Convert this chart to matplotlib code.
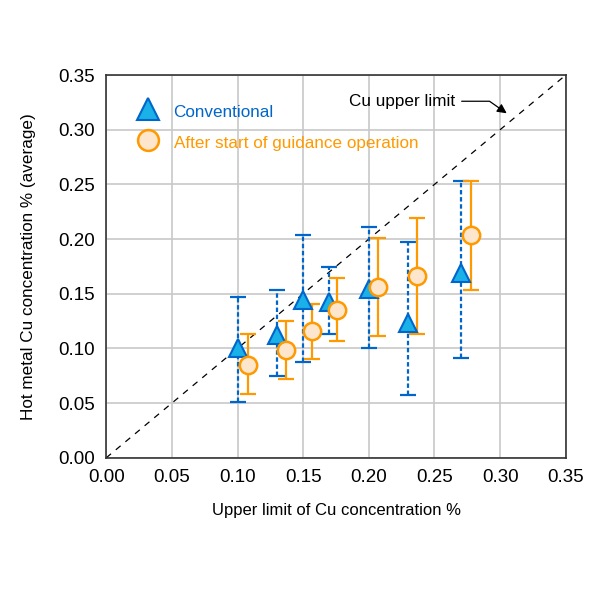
import matplotlib
matplotlib.use('Agg')
import matplotlib.pyplot as plt
from matplotlib.lines import Line2D

plt.rcParams['font.family'] = ['Liberation Sans', 'DejaVu Sans']

# Conventional
conv_x = [0.10, 0.13, 0.15, 0.17, 0.20, 0.23, 0.27]
conv_y = [0.100, 0.112, 0.144, 0.142, 0.154, 0.123, 0.169]
conv_hi = [0.147, 0.153, 0.204, 0.174, 0.211, 0.197, 0.253]
conv_lo = [0.051, 0.075, 0.088, 0.113, 0.100, 0.057, 0.091]

# After start of guidance operation
guid_x = [0.108, 0.137, 0.157, 0.176, 0.207, 0.237, 0.278]
guid_y = [0.085, 0.099, 0.116, 0.135, 0.156, 0.166, 0.204]
guid_hi = [0.113, 0.125, 0.141, 0.164, 0.201, 0.219, 0.253]
guid_lo = [0.058, 0.072, 0.090, 0.107, 0.111, 0.113, 0.153]

blue_edge = '#0066cc'
blue_fill = '#1ab0e8'
orange = '#ff9900'
orange_fill = '#fde6cc'

fig = plt.figure(figsize=(6, 6), dpi=100)
ax = fig.add_axes([0.177, 0.237, 0.766, 0.638])

ax.plot([0, 0.35], [0, 0.35], color='black', linestyle=(0, (5, 5)), linewidth=0.9, zorder=2)

err = [[y - l for y, l in zip(conv_y, conv_lo)], [h - y for y, h in zip(conv_y, conv_hi)]]
eb = ax.errorbar(conv_x, conv_y, yerr=err, fmt='none', ecolor=blue_edge, elinewidth=1.6,
                 capsize=6, capthick=1.6, zorder=3)
eb[2][0].set_linestyle((0, (2, 1.2)))
ax.plot(conv_x, conv_y, linestyle='none', marker='^', markersize=13.5, markerfacecolor=blue_fill,
        markeredgecolor=blue_edge, markeredgewidth=1.5, zorder=4)

err = [[y - l for y, l in zip(guid_y, guid_lo)], [h - y for y, h in zip(guid_y, guid_hi)]]
ax.errorbar(guid_x, guid_y, yerr=err, fmt='none', ecolor=orange, elinewidth=1.6,
            capsize=6, capthick=1.6, zorder=3)
ax.plot(guid_x, guid_y, linestyle='none', marker='o', markersize=12.5, markerfacecolor=orange_fill,
        markeredgecolor=orange, markeredgewidth=1.8, zorder=4)

ax.set_xlim(0, 0.35)
ax.set_ylim(0, 0.35)
ticks = [0.00, 0.05, 0.10, 0.15, 0.20, 0.25, 0.30, 0.35]
ax.set_xticks(ticks)
ax.set_yticks(ticks)
ax.set_xticklabels([f'{t:.2f}' for t in ticks])
ax.set_yticklabels([f'{t:.2f}' for t in ticks])
ax.tick_params(labelsize=13.5, length=0, pad=8)
ax.grid(color='#c8c8c8', linewidth=1.2)
ax.set_axisbelow(True)
for s in ax.spines.values():
    s.set_color('#333333')
    s.set_linewidth(1.2)

ax.set_xlabel('Upper limit of Cu concentration %', fontsize=12, labelpad=12)
ax.set_ylabel('Hot metal Cu concentration % (average)', fontsize=12.3, labelpad=16)

handles = [
    Line2D([], [], linestyle='none', marker='^', markersize=16, markerfacecolor=blue_fill,
           markeredgecolor=blue_edge, markeredgewidth=1.5),
    Line2D([], [], linestyle='none', marker='o', markersize=15, markerfacecolor=orange_fill,
           markeredgecolor=orange, markeredgewidth=1.8),
]
ax.legend(handles, ['Conventional', 'After start of guidance operation'], loc='upper left',
          bbox_to_anchor=(0.027, 0.973), frameon=False, fontsize=12.3, handletextpad=0.72,
          handlelength=1.6, handleheight=1.5, labelspacing=0.62, labelcolor=[blue_edge, orange])

ax.annotate('Cu upper limit', xy=(0.305, 0.315), xytext=(0.225, 0.326), fontsize=12.3,
            ha='center', va='center',
            arrowprops=dict(arrowstyle='-|>', color='black', linewidth=0.9,
                            connectionstyle='angle,angleA=0,angleB=-35,rad=0',
                            shrinkA=3, shrinkB=0, mutation_scale=14))

fig.savefig('out.png', dpi=100)
